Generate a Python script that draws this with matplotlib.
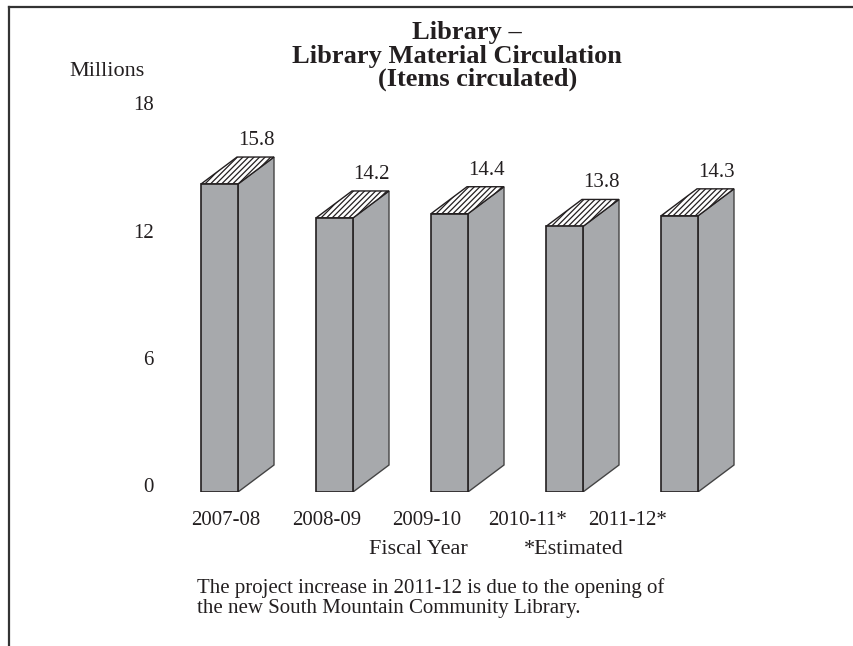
import matplotlib
matplotlib.use('Agg')
import matplotlib.pyplot as plt
from matplotlib.patches import Polygon
from matplotlib.transforms import ScaledTranslation
import numpy as np

# data
years = ['2007-08', '2008-09', '2009-10', '2010-11*', '2011-12*']
circulation = [15.8, 14.2, 14.4, 13.8, 14.3]   # millions of items
yticks = [0, 6, 12, 18]

INK = '#231f20'
GRAY = '#a7a9ac'
plt.rcParams['font.family'] = ['Liberation Serif', 'DejaVu Serif']
plt.rcParams['hatch.linewidth'] = 0.9
plt.rcParams['hatch.color'] = INK

W, H = 854, 646
fig = plt.figure(figsize=(W / 100, H / 100), dpi=100)

# axes placed so one x unit = one bar slot (115 px) and 0 sits at y=492px
left_px, right_px = 165, 800
bottom_px, px_per_unit = 492, 21.2
ax = fig.add_axes([left_px / W, (H - bottom_px) / H,
                   (right_px - left_px) / W, 18 * px_per_unit / H])
slot = 115.0
ax.set_xlim(-(201 - left_px) / slot, -(201 - left_px) / slot + (right_px - left_px) / slot)
ax.set_ylim(0, 18)

bw = 37 / slot          # front face width
dx = 36 / slot          # depth offset in x
dy = 27 / px_per_unit   # depth offset in y (millions)

for i, v in enumerate(circulation):
    x0 = i
    h = v - dy  # label value corresponds to the back top edge
    front = Polygon([(x0, 0), (x0 + bw, 0), (x0 + bw, h), (x0, h)], closed=True,
                    facecolor=GRAY, edgecolor=INK, linewidth=1.2, zorder=3)
    side = Polygon([(x0 + bw, 0), (x0 + bw + dx, dy), (x0 + bw + dx, h + dy), (x0 + bw, h)],
                   closed=True, facecolor=GRAY, edgecolor='#444444', linewidth=1.0, zorder=2)
    top = Polygon([(x0, h), (x0 + bw, h), (x0 + bw + dx, h + dy), (x0 + dx, h + dy)],
                  closed=True, facecolor='white', edgecolor=INK, linewidth=1.0,
                  hatch='//////', zorder=2)
    for p in (side, top, front):
        ax.add_patch(p)
    ax.annotate(f'{v:.1f}', (x0 + bw + dx / 2, v), xytext=(0, 12), textcoords='offset points',
                ha='center', va='center', fontsize=15, color=INK)

# axes cosmetics
for s in ax.spines.values():
    s.set_visible(False)
ax.set_yticks(yticks)
ax.set_yticklabels([str(t) for t in yticks])
ax.tick_params(axis='y', length=0, pad=8, labelsize=15, labelcolor=INK)
off = ScaledTranslation(0, 7 / 100, fig.dpi_scale_trans)
for lab in ax.get_yticklabels():
    lab.set_transform(lab.get_transform() + off)

label_pos = (226 - 201) / slot + np.arange(len(years)) * (100.5 / slot)
ax.set_xticks(label_pos)
ax.set_xticklabels(years)
ax.tick_params(axis='x', length=0, pad=14, labelsize=15, labelcolor=INK)

# title and annotations in figure pixels
def ftext(x, y, s, **kw):
    fig.text(x / W, 1 - y / H, s, color=INK, **kw)

ftext(467, 39, 'Library \u2013', ha='center', va='baseline', fontsize=19, fontweight='bold')
ftext(457, 63, 'Library Material Circulation', ha='center', va='baseline', fontsize=19, fontweight='bold')
ftext(478, 86, '(Items circulated)', ha='center', va='baseline', fontsize=19, fontweight='bold')
ftext(107, 71, 'Millions', ha='center', va='center', fontsize=16)
ftext(418, 550, 'Fiscal Year', ha='center', va='center', fontsize=16)
ftext(574, 550, '*Estimated', ha='center', va='center', fontsize=16)
ftext(197, 588, 'The project increase in 2011-12 is due to the opening of', ha='left', va='center', fontsize=15)
ftext(197, 609, 'the new South Mountain Community Library.', ha='left', va='center', fontsize=15)

# frame lines on top and left
fig.add_artist(plt.Line2D([9 / W, 1], [1 - 7 / H, 1 - 7 / H], color='#333333', linewidth=1.6))
fig.add_artist(plt.Line2D([9 / W, 9 / W], [0, 1 - 7 / H], color='#333333', linewidth=1.6))

fig.savefig('out.png', dpi=100)
